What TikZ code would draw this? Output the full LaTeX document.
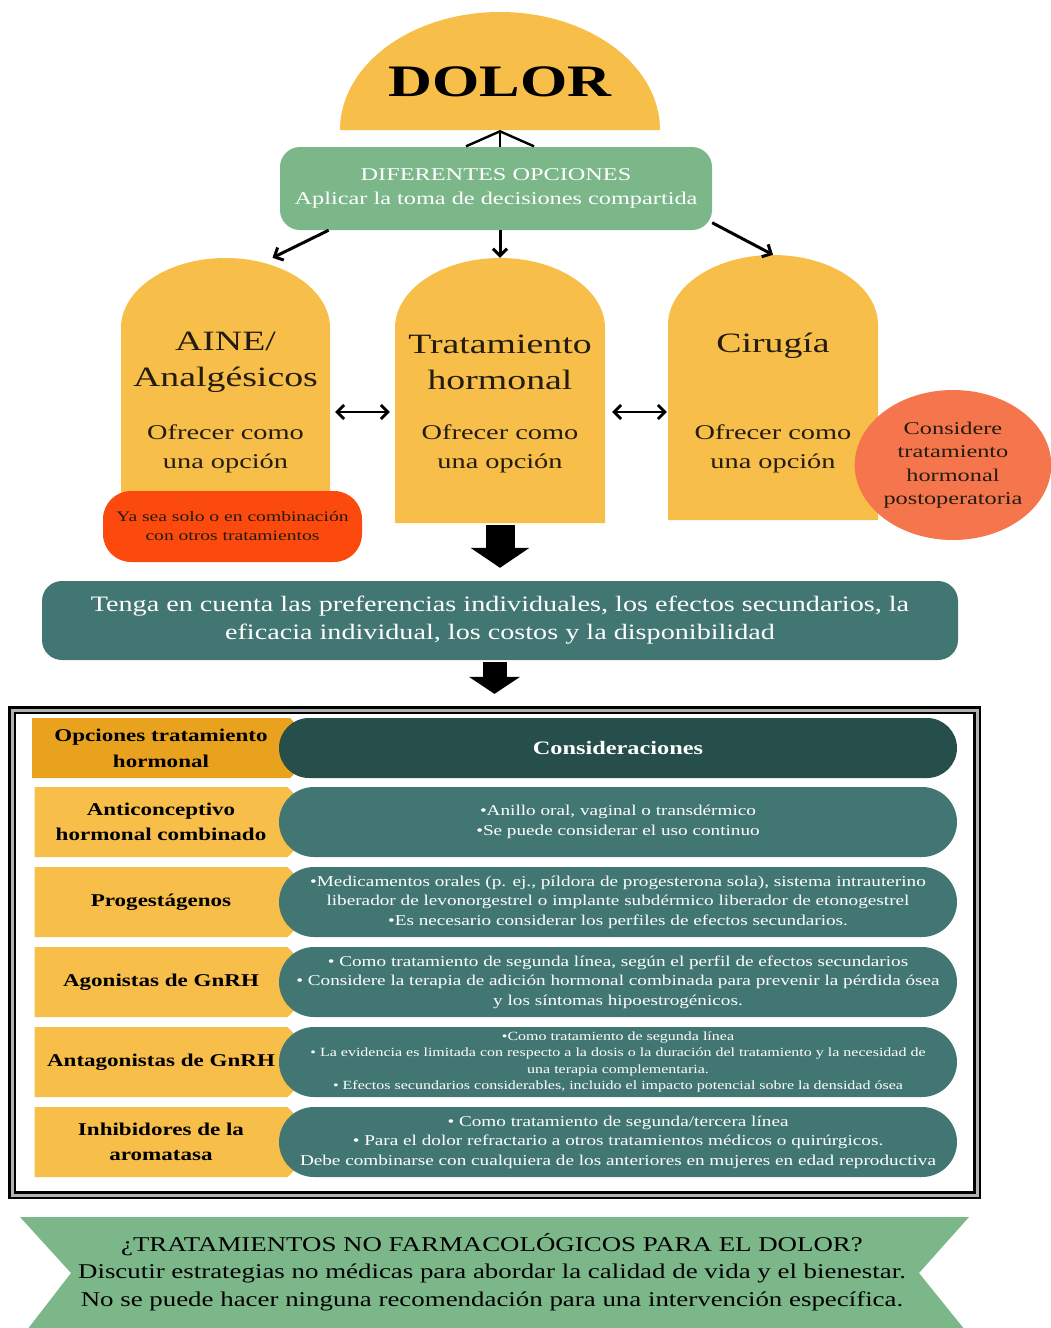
\documentclass[tikz,border=0pt]{standalone}
\usepackage{fontspec}
\setmainfont{Liberation Serif}
\newfontfamily\anchafont[FakeStretch=1.35]{Liberation Serif}
\newfontfamily\tablafont[FakeStretch=1.28]{Liberation Serif}
\usetikzlibrary{shapes.geometric, shapes.symbols, arrows.meta, calc}

\definecolor{amarillo}{RGB}{247,190,74}
\definecolor{naranja}{RGB}{232,162,30}
\definecolor{verde}{RGB}{124,183,138}
\definecolor{petroleo}{RGB}{66,118,114}
\definecolor{petroleooscuro}{RGB}{38,78,74}
\definecolor{rojo}{RGB}{252,74,14}
\definecolor{coral}{RGB}{245,118,76}
\definecolor{tinta}{RGB}{35,28,15}

\newcommand{\tam}[2]{\fontsize{#1}{#2}\selectfont}

\begin{document}
\begin{tikzpicture}[x=1pt, y=-1pt,
		lapida/.style={fill=amarillo},
		hueco/.style={rectangle, inner sep=0pt},
		caja/.style={rectangle, rounded corners=20pt, align=center, inner sep=0pt},
		titulo/.style={align=center, text=tinta, font=\anchafont\tam{28}{36}},
		oferta/.style={align=center, text=tinta, font=\anchafont\tam{21}{29}},
		flecha/.style={line width=3pt, -{Straight Barb[length=7pt, width=14pt]}},
		doble/.style={line width=2.8pt, {Straight Barb[length=7pt, width=14pt]}-{Straight Barb[length=7pt, width=14pt]}},
		bloque/.style={line width=29pt, -{Triangle[length=20pt, width=58pt]}},
		marco/.style={rectangle, draw=black, line width=2.2pt, double=gray!60, double distance=3pt, inner sep=0pt},
		etiqueta/.style={signal, signal to=east, signal pointer angle=90, fill=amarillo, minimum width=288pt, minimum height=70pt, inner sep=0pt, align=center, text=black, font=\tablafont\bfseries\tam{18}{25}},
		pastilla/.style={rectangle, rounded corners=35pt, fill=petroleo, minimum width=678pt, minimum height=70pt, inner sep=0pt, align=center, text=white, font=\tablafont\tam{15}{19.5}}]

	\useasboundingbox (0,0) rectangle (1050,1328);

	% DOLOR
	\fill[amarillo] (340,130) arc[start angle=180, end angle=360, x radius=160, y radius=118] -- cycle;
	\coordinate (base) at (500,130);
	\node[font=\anchafont\bfseries\tam{45}{50}, text=black] (dolor) at (500,82) {DOLOR};

	\node[caja, fill=verde, minimum width=432pt, minimum height=83pt, text=white, font=\anchafont\tam{18}{24}] (opciones) at (496,188.5) {DIFERENTES OPCIONES\\Aplicar la toma de decisiones compartida};
	\draw[line width=2.4pt, -{Straight Barb[length=15pt, width=68pt]}] (opciones.north -| base) -- (base);

	% Opciones de tratamiento
	\fill[lapida] (121,497) -- (121,328) arc[start angle=180, end angle=360, x radius=104.5, y radius=70] -- (330,497) -- cycle;
	\fill[lapida] (395,523) -- (395,328) arc[start angle=180, end angle=360, x radius=105, y radius=70] -- (605,523) -- cycle;
	\fill[lapida] (668,520) -- (668,325) arc[start angle=180, end angle=360, x radius=105, y radius=70] -- (878,520) -- cycle;

	\node[hueco, minimum width=209pt, minimum height=239pt] (aine) at (225.5,377.5) {};
	\node[hueco, minimum width=210pt, minimum height=265pt] (horm) at (500,390.5) {};
	\node[hueco, minimum width=210pt, minimum height=265pt] (ciru) at (773,387.5) {};

	\node[titulo] (aine-tit) at (225.5,362) {AINE/\\Analgésicos};
	\node[oferta] (aine-txt) at (225.5,449) {Ofrecer como\\una opción};
	\node[titulo] (horm-tit) at (500,362) {Tratamiento\\hormonal};
	\node[oferta] (horm-txt) at (500,449) {Ofrecer como\\una opción};
	\node[titulo] (ciru-tit) at (773,346) {Cirugía};
	\node[oferta] (ciru-txt) at (773,449) {Ofrecer como\\una opción};

	\draw[flecha] (opciones.-166) -- ($(aine.north)+(47,0)$);
	\draw[flecha] (opciones.south -| horm.north) -- (horm.north);
	\draw[flecha] (opciones.-9) -- (ciru.north);

	\coordinate (nivel) at (0,412);
	\draw[doble, shorten <=5pt, shorten >=5pt] (aine.east |- nivel) -- (horm.west |- nivel);
	\draw[doble, shorten <=7pt, shorten >=1pt] (horm.east |- nivel) -- (ciru.west |- nivel);

	\node[caja, fill=rojo, rounded corners=28pt, minimum width=259pt, minimum height=71pt, font=\anchafont\tam{14.5}{19}, text=tinta] (combinacion) at (232.5,526.5) {Ya sea solo o en combinación\\con otros tratamientos};
	\node[ellipse, fill=coral, minimum width=196pt, minimum height=150pt, inner sep=0pt, align=center, font=\anchafont\tam{18}{23.5}, text=tinta] (postop) at (953,465) {Considere\\tratamiento\\hormonal\\postoperatoria};

	% Preferencias
	\node[caja, fill=petroleo, minimum width=916pt, minimum height=79pt, text=white, font=\tablafont\tam{22}{28}] (cuenta) at (500,620.5) {Tenga en cuenta las preferencias individuales, los efectos secundarios, la\\eficacia individual, los costos y la disponibilidad};
	\draw[bloque, shorten <=2pt, shorten >=13pt] (horm.south) -- (cuenta.north);

	% Tabla de tratamiento hormonal
	\node[marco, minimum width=965pt, minimum height=485pt] (marco) at (494.5,952.5) {};
	\draw[bloque, line width=24pt, -{Triangle[length=17pt, width=50pt]}, shorten <=2pt, shorten >=15pt] (cuenta.south -| marco.north) -- (marco.north);

	\node[etiqueta, fill=naranja, minimum height=60pt, font=\tablafont\bfseries\tam{18}{26}] (opc) at (161,748) {Opciones tratamiento\\hormonal};
	\node[pastilla, fill=petroleooscuro, minimum height=60pt, rounded corners=30pt, font=\tablafont\bfseries\tam{19}{24}] (consid) at (618,748) {Consideraciones};

	\node[etiqueta] (aco) at (161,822) {Anticonceptivo\\hormonal combinado};
	\node[pastilla, font=\tablafont\tam{15}{20}] (aco-txt) at (618,822) {•Anillo oral, vaginal o transdérmico\\•Se puede considerar el uso continuo};

	\node[etiqueta] (prog) at (161,902) {Progestágenos};
	\node[pastilla] (prog-txt) at (618,902) {•Medicamentos orales (p. ej., píldora de progesterona sola), sistema intrauterino\\liberador de levonorgestrel o implante subdérmico liberador de etonogestrel\\•Es necesario considerar los perfiles de efectos secundarios.};

	\node[etiqueta] (agon) at (161,982) {Agonistas de GnRH};
	\node[pastilla] (agon-txt) at (618,982) {• Como tratamiento de segunda línea, según el perfil de efectos secundarios\\• Considere la terapia de adición hormonal combinada para prevenir la pérdida ósea\\y los síntomas hipoestrogénicos.};

	\node[etiqueta] (antag) at (161,1062) {Antagonistas de GnRH};
	\node[pastilla, font=\tablafont\tam{12.5}{16.5}] (antag-txt) at (618,1062) {•Como tratamiento de segunda línea\\• La evidencia es limitada con respecto a la dosis o la duración del tratamiento y la necesidad de\\una terapia complementaria.\\• Efectos secundarios considerables, incluido el impacto potencial sobre la densidad ósea};

	\node[etiqueta] (inhib) at (161,1142) {Inhibidores de la\\aromatasa};
	\node[pastilla] (inhib-txt) at (618,1142) {• Como tratamiento de segunda/tercera línea\\• Para el dolor refractario a otros tratamientos médicos o quirúrgicos.\\Debe combinarse con cualquiera de los anteriores en mujeres en edad reproductiva};

	% Tratamientos no farmacológicos
	\fill[verde] (20,1217) -- (969,1217) -- (919,1273) -- (965,1330) -- (27,1330) -- (71,1273) -- cycle;
	\node[align=center, font=\tablafont\tam{21}{27.5}, text=black] (nofarma) at (492,1272) {¿TRATAMIENTOS NO FARMACOLÓGICOS PARA EL DOLOR?\\Discutir estrategias no médicas para abordar la calidad de vida y el bienestar.\\No se puede hacer ninguna recomendación para una intervención específica.};

\end{tikzpicture}
\end{document}
